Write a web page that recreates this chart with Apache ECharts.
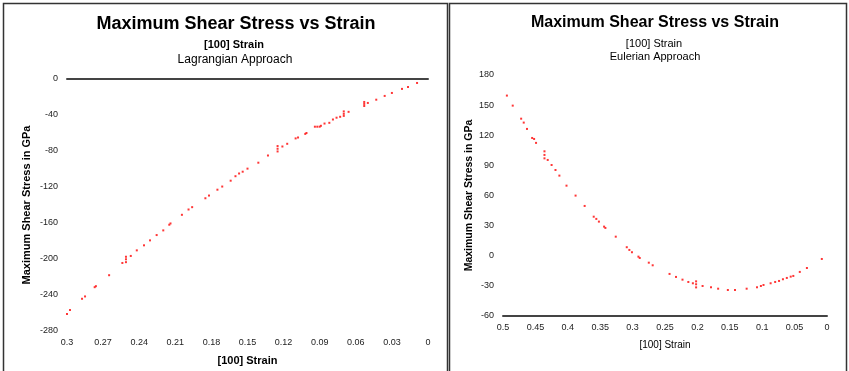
<!DOCTYPE html>
<html>
<head>
<meta charset="utf-8">
<script src="https://cdn.jsdelivr.net/npm/echarts@6/dist/echarts.min.js"></script>
<style>
  html, body { margin: 0; padding: 0; background: #fff; }
  #chart { width: 849px; height: 371px; }
</style>
</head>
<body>
<div id="chart"></div>
<script>
// Lagrangian approach: [100] strain vs maximum shear stress (GPa)
const lagStrain = [0.0091, 0.0166, 0.0216, 0.030, 0.036, 0.043, 0.050, 0.053, 0.053, 0.053,
  0.066, 0.070, 0.070, 0.070, 0.073, 0.076, 0.079, 0.082, 0.086, 0.089, 0.090, 0.092, 0.094,
  0.101, 0.102, 0.108, 0.110, 0.117, 0.121, 0.125, 0.125, 0.125, 0.133, 0.141, 0.150, 0.154,
  0.157, 0.160, 0.164, 0.171, 0.175, 0.182, 0.185, 0.196, 0.199, 0.2045, 0.214, 0.215, 0.220,
  0.2255, 0.231, 0.236, 0.242, 0.247, 0.251, 0.251, 0.251, 0.254, 0.265, 0.276, 0.277, 0.285,
  0.2875, 0.2975, 0.300];
const lagStress = [-4.4, -8.9, -11, -15.5, -18.8, -23, -26.6, -27.7, -25.5, -30,
  -36.5, -38.7, -36, -41, -42, -43, -45, -48.7, -49.5, -52, -53, -53, -53,
  -60, -61, -65, -66, -72, -75, -77.5, -74.5, -80.5, -85, -93, -99.6, -103,
  -105, -108, -113, -119.5, -123, -129.5, -132.5, -142.4, -145, -150.9, -160.5, -161.9, -168.2,
  -173.4, -179.3, -184.8, -190.4, -196.6, -200.3, -197.5, -203.5, -204.4, -218, -230.2, -231.3, -241.6,
  -244.2, -256.7, -261];

// Eulerian approach: [100] strain vs maximum shear stress (GPa)
const eulStrain = [0.494, 0.485, 0.472, 0.468, 0.463, 0.455, 0.452, 0.449, 0.436, 0.436, 0.436,
  0.431, 0.425, 0.419, 0.413, 0.402, 0.388, 0.374, 0.360, 0.356, 0.352, 0.344, 0.342, 0.326,
  0.309, 0.305, 0.301, 0.291, 0.289, 0.275, 0.269, 0.243, 0.233, 0.223, 0.214, 0.207, 0.202,
  0.202, 0.202, 0.192, 0.179, 0.168, 0.153, 0.142, 0.124, 0.108, 0.102, 0.098, 0.087, 0.080,
  0.074, 0.068, 0.062, 0.056, 0.052, 0.042, 0.031, 0.008];
const eulStress = [159.5, 149.5, 136.5, 132.6, 126.3, 117.3, 116.3, 112.4, 100.4, 104, 97,
  95.4, 90.4, 85.4, 79.8, 69.8, 59.9, 49.6, 38.9, 36.7, 34, 29, 27.7, 19,
  8.5, 5.8, 3.5, -0.9, -2.2, -6.9, -9.5, -18.1, -21.1, -23.8, -26.1, -27.4, -28.4,
  -25.5, -31.5, -30.1, -31.4, -32.8, -34.1, -34.1, -32.8, -31.4, -30.1, -29.1, -27.4, -26.1,
  -25.1, -23.4, -22.1, -20.8, -20.1, -16.1, -12.2, -3.2];

const titleText = 'Maximum Shear Stress vs Strain';
const strainLabel = '[100] Strain';
const lagSubtitle = 'Lagrangian Approach';
const eulSubtitle = 'Eulerian Approach';
const yTitle = 'Maximum Shear Stress in GPa';

const pair = (xs, ys) => xs.map((x, i) => [x, ys[i]]);

const FONT = 'Liberation Sans, Arial, sans-serif';
const tickLabel = { fontFamily: FONT, fontSize: 9, color: '#222', margin: 6 };

const chart = echarts.init(document.getElementById('chart'), null, { renderer: 'canvas' });

chart.setOption({
  animation: false,
  backgroundColor: '#fff',
  textStyle: { fontFamily: FONT },
  title: [
    { text: titleText, left: 231, top: 10, textAlign: 'center',
      textStyle: { fontSize: 18, fontWeight: 'bold', color: '#000', fontFamily: FONT } },
    { text: strainLabel, left: 229, top: 34, textAlign: 'center',
      textStyle: { fontSize: 11, fontWeight: 'bold', color: '#000', fontFamily: FONT } },
    { text: lagSubtitle, left: 230, top: 49, textAlign: 'center',
      textStyle: { fontSize: 12, fontWeight: 'normal', color: '#000', fontFamily: FONT } },
    { text: titleText, left: 650, top: 10, textAlign: 'center',
      textStyle: { fontSize: 16, fontWeight: 'bold', color: '#000', fontFamily: FONT } },
    { text: strainLabel, left: 649, top: 33, textAlign: 'center',
      textStyle: { fontSize: 11, fontWeight: 'normal', color: '#000', fontFamily: FONT } },
    { text: eulSubtitle, left: 650, top: 46, textAlign: 'center',
      textStyle: { fontSize: 11, fontWeight: 'normal', color: '#000', fontFamily: FONT } }
  ],
  grid: [
    { left: 67, top: 79, width: 361, height: 253 },
    { left: 503, top: 75, width: 324, height: 241 }
  ],
  xAxis: [
    { gridIndex: 0, type: 'value', min: 0, max: 0.3, interval: 0.03, inverse: true, position: 'bottom',
      name: strainLabel, nameLocation: 'middle', nameGap: 24,
      nameTextStyle: { fontFamily: FONT, fontSize: 11, fontWeight: 'bold', color: '#000' },
      axisLine: { show: false, onZero: false }, axisTick: { show: false }, splitLine: { show: false },
      axisLabel: Object.assign({}, tickLabel, { margin: 7, formatter: v => String(+v.toFixed(2)) }) },
    // zero line running along the top of the Lagrangian plot
    { gridIndex: 0, type: 'value', min: 0, max: 0.3, inverse: true, position: 'top',
      axisLine: { show: true, onZero: false, lineStyle: { color: '#444', width: 2 } },
      axisTick: { show: false }, axisLabel: { show: false }, splitLine: { show: false } },
    { gridIndex: 1, type: 'value', min: 0, max: 0.5, interval: 0.05, inverse: true, position: 'bottom',
      name: strainLabel, nameLocation: 'middle', nameGap: 24,
      nameTextStyle: { fontFamily: FONT, fontSize: 10, fontWeight: 'normal', color: '#000' },
      axisLine: { show: true, onZero: false, lineStyle: { color: '#444', width: 2 } },
      axisTick: { show: false }, splitLine: { show: false },
      axisLabel: Object.assign({}, tickLabel, { margin: 7, formatter: v => String(+v.toFixed(2)) }) }
  ],
  yAxis: [
    { gridIndex: 0, type: 'value', min: -280, max: 0, interval: 40,
      name: yTitle, nameLocation: 'middle', nameGap: 35, nameRotate: 90,
      nameTextStyle: { fontFamily: FONT, fontSize: 11, fontWeight: 'bold', color: '#000' },
      axisLine: { show: false }, axisTick: { show: false }, splitLine: { show: false },
      axisLabel: Object.assign({}, tickLabel, { margin: 9 }) },
    { gridIndex: 1, type: 'value', min: -60, max: 180, interval: 30,
      name: yTitle, nameLocation: 'middle', nameGap: 28, nameRotate: 90,
      nameTextStyle: { fontFamily: FONT, fontSize: 10.5, fontWeight: 'bold', color: '#000' },
      axisLine: { show: false }, axisTick: { show: false }, splitLine: { show: false },
      axisLabel: Object.assign({}, tickLabel, { margin: 9 }) }
  ],
  series: [
    { type: 'scatter', xAxisIndex: 0, yAxisIndex: 0, data: pair(lagStrain, lagStress),
      symbol: 'rect', symbolSize: 2, itemStyle: { color: '#ff2020', opacity: 0.9 }, clip: false },
    { type: 'scatter', xAxisIndex: 2, yAxisIndex: 1, data: pair(eulStrain, eulStress),
      symbol: 'rect', symbolSize: 2, itemStyle: { color: '#ff2020', opacity: 0.9 }, clip: false }
  ],
  graphic: [
    { type: 'rect', shape: { x: 3.5, y: 3.5, width: 444, height: 370 },
      style: { fill: null, stroke: '#333', lineWidth: 1.5 }, silent: true },
    { type: 'rect', shape: { x: 449.5, y: 3.5, width: 397, height: 370 },
      style: { fill: null, stroke: '#333', lineWidth: 1.5 }, silent: true }
  ]
});
</script>
</body>
</html>
